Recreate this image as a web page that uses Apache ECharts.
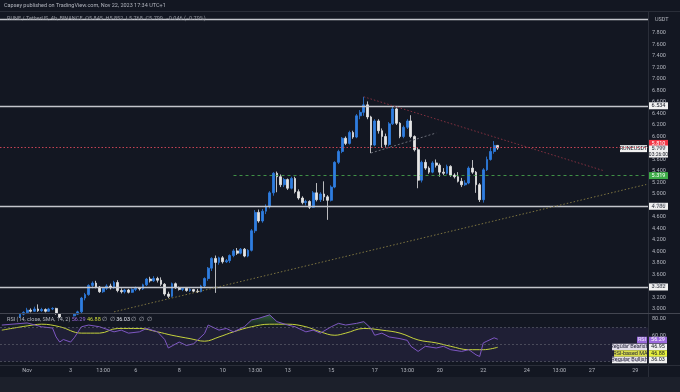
<!DOCTYPE html>
<html><head><meta charset="utf-8">
<script src="https://cdn.jsdelivr.net/npm/echarts@6/dist/echarts.min.js"></script>
<style>html,body{margin:0;padding:0;background:#131722;}#c{width:680px;height:392px;}</style>
</head><body><div id="c"></div>
<script>
// ---- data (4h candles, index 0 = Oct 30 20:00) ----
const opens  = [2.76,2.80,2.84,2.82,2.87,2.86,2.91,2.94,2.98,2.96,3.00,2.97,2.99,2.96,3.00,3.01,2.92,2.86,2.89,2.85,2.88,2.91,2.95,3.19,3.25,3.41,3.45,3.38,3.30,3.36,3.40,3.37,3.46,3.32,3.30,3.33,3.29,3.34,3.36,3.35,3.42,3.52,3.49,3.53,3.50,3.43,3.26,3.22,3.44,3.37,3.34,3.36,3.32,3.34,3.31,3.30,3.40,3.53,3.71,3.88,3.81,3.89,3.82,3.84,3.93,4.01,3.97,4.04,3.92,4.02,4.36,4.68,4.53,4.70,4.78,5.02,5.36,5.30,5.16,5.25,5.10,5.27,5.04,4.93,4.85,4.87,4.77,5.02,4.90,5.00,4.95,4.89,5.12,5.55,5.74,5.97,5.88,6.07,5.99,6.36,6.42,6.55,6.34,5.85,6.27,6.10,6.00,5.86,6.22,6.48,6.23,6.00,6.16,6.27,6.00,5.77,5.24,5.55,5.45,5.38,5.54,5.50,5.38,5.36,5.48,5.33,5.30,5.22,5.16,5.19,5.45,5.38,5.16,4.90,5.42,5.60,5.74,5.845];
const closes = [2.80,2.84,2.82,2.87,2.86,2.91,2.94,2.98,2.96,3.00,2.97,2.99,2.96,3.00,3.01,2.92,2.86,2.89,2.85,2.88,2.91,2.95,3.19,3.25,3.41,3.45,3.38,3.30,3.36,3.40,3.37,3.46,3.32,3.30,3.33,3.29,3.34,3.36,3.35,3.42,3.52,3.49,3.53,3.50,3.43,3.26,3.22,3.44,3.37,3.34,3.36,3.32,3.34,3.31,3.30,3.40,3.53,3.71,3.88,3.81,3.89,3.82,3.84,3.93,4.01,3.97,4.04,3.92,4.02,4.36,4.68,4.53,4.70,4.78,5.02,5.36,5.30,5.16,5.25,5.10,5.27,5.04,4.93,4.85,4.87,4.77,5.02,4.90,5.00,4.95,4.89,5.12,5.55,5.74,5.97,5.88,6.07,5.99,6.36,6.42,6.55,6.34,5.85,6.27,6.10,6.00,5.86,6.22,6.48,6.23,6.00,6.16,6.27,6.00,5.77,5.24,5.55,5.45,5.38,5.54,5.50,5.38,5.36,5.48,5.33,5.30,5.22,5.16,5.19,5.45,5.38,5.16,4.90,5.42,5.60,5.74,5.845,5.799];
const lows   = [2.74,2.78,2.80,2.81,2.84,2.85,2.89,2.92,2.94,2.95,2.95,2.95,2.94,2.95,2.98,2.90,2.84,2.85,2.83,2.84,2.87,2.90,2.93,3.15,3.23,3.36,3.36,3.28,3.28,3.33,3.34,3.35,3.29,3.27,3.27,3.27,3.28,3.31,3.32,3.33,3.40,3.46,3.47,3.46,3.40,3.23,3.19,3.20,3.35,3.32,3.31,3.30,3.30,3.29,3.28,3.29,3.38,3.49,3.66,3.28,3.77,3.79,3.80,3.80,3.90,3.94,3.95,3.90,3.90,4.00,4.32,4.50,4.50,4.65,4.75,4.97,5.03,5.12,5.12,5.07,5.08,5.01,4.90,4.82,4.80,4.74,4.76,4.87,4.86,4.88,4.55,4.87,5.10,5.52,5.71,5.85,5.86,5.96,5.97,6.30,6.36,6.30,5.71,5.83,6.05,5.80,5.82,5.83,6.20,6.20,5.97,5.97,6.13,5.97,5.74,5.10,5.20,5.42,5.35,5.36,5.46,5.30,5.33,5.34,5.30,5.27,5.20,5.12,5.14,5.17,5.35,5.02,4.86,4.85,5.40,5.58,5.70,5.768];
const highs  = [2.82,2.86,2.87,2.89,2.90,2.93,2.96,3.02,3.01,3.04,3.08,3.02,3.01,3.02,3.03,3.02,2.93,2.91,2.90,2.90,2.93,2.97,3.21,3.28,3.43,3.48,3.49,3.40,3.38,3.43,3.44,3.49,3.50,3.36,3.35,3.35,3.36,3.39,3.38,3.44,3.54,3.56,3.57,3.56,3.55,3.45,3.30,3.46,3.46,3.39,3.38,3.38,3.36,3.35,3.35,3.42,3.55,3.73,3.90,3.93,3.91,3.92,3.87,3.95,4.04,4.06,4.06,4.06,4.04,4.39,4.72,4.73,4.74,4.82,5.05,5.38,5.39,5.34,5.28,5.27,5.30,5.30,5.08,4.96,4.90,4.89,5.05,5.19,5.03,5.22,4.98,5.15,5.57,5.77,5.99,6.00,6.10,6.10,6.39,6.46,6.69,6.61,6.36,6.30,6.30,6.14,6.05,6.25,6.52,6.50,6.25,6.19,6.30,6.37,6.02,5.80,5.58,5.60,5.48,5.57,5.60,5.53,5.45,5.51,5.50,5.36,5.38,5.28,5.24,5.48,5.59,5.40,5.19,5.45,5.65,5.80,5.92,5.852];

const rsiIdx = [0,7,11,14,15,16,17,19,20,22,24,27,31,33,35,38,40,43,45,46,49,51,53,56,57,60,62,64,67,69,71,74,76,79,81,84,86,88,91,93,95,98,100,102,103,105,107,110,112,113,115,117,120,122,124,127,129,131,132,133,134,136,137];
const rsiVal = [73,75.5,71,69.5,59,53,56,53,58,71,73,71,65,67,63.5,65,69,65,56,46,53,49,51,63,73,67,69,65,71,79,81,85,77,73,71,65,67,63.5,71,75,73,75,77,69,61,63.5,59,57,55,48,42,48,46,48,44,42,44,38,36,52,54,58,56.29];
const smaIdx = [0,7,11,16,22,27,32,38,43,47,52,56,60,64,69,74,79,84,88,92,95,100,105,110,115,120,124,129,133,137];
const smaVal = [67,72,74,71,63.5,63.5,69,69,65,61,57,54,59,65,71,74,74,71,65,61,63.5,69,67,63.5,55.5,52,48,44,44,46.88];

const priceTicks = [3.0,3.2,3.4,3.6,3.8,4.0,4.2,4.4,4.6,4.8,5.0,5.2,5.4,5.6,5.8,6.0,6.2,6.4,6.6,6.8,7.0,7.2,7.4,7.6,7.8];
const rsiTicks = [80,60];
const timeTickIdx  = [7,19,28,37,49,61,70,79,91,103,112,121,133,145,154,163,175];
const timeTickText = ['Nov','3','13:00','6','8','10','13:00','13','15','17','13:00','20','22','24','13:00','27','29'];

const levelLines = [8.043, 6.534, 4.786, 3.382];
const redLevel = 5.81, lastPrice = 5.799, greenLevel = 5.319;
const trendRed = [[100, 6.69],[166, 5.41]];
const trendYellow = [[31, 2.95],[178, 5.165]];
const trendGrey = [[102, 5.713],[120, 6.061]];

// ---- chart ----
const N = 179;
const cats = []; for (let i = 0; i < N; i++) cats.push(String(i));
const candleData = opens.map((o, i) => [o, closes[i], lows[i], highs[i]]);
const FONT = 'Roboto';
const AX = '#b2b5be';
const chart = echarts.init(document.getElementById('c'));
const seg = (pts, color, type) => [{coord:[cats[pts[0][0]], pts[0][1]], lineStyle:{color, type, width:1}}, {coord:[cats[pts[1][0]], pts[1][1]]}];

chart.setOption({
  backgroundColor: '#131722',
  animation: false,
  grid: [
    {left: 0, top: 12, width: 648, height: 301},
    {left: 0, top: 314, width: 648, height: 51}
  ],
  xAxis: [
    {type:'category', gridIndex:0, data:cats, boundaryGap:true, axisLine:{show:false}, axisTick:{show:false}, axisLabel:{show:false}, splitLine:{show:false}},
    {type:'value', gridIndex:1, min:-0.5, max:178.5, axisLine:{show:false}, axisTick:{show:false}, splitLine:{show:false},
     axisLabel:{customValues: timeTickIdx, formatter: v => timeTickText[timeTickIdx.indexOf(v)] || '', color:AX, fontSize:5.5, fontFamily:FONT, margin:3}}
  ],
  yAxis: [
    {type:'value', gridIndex:0, position:'right', min:2.93, max:8.165, axisLine:{show:false}, axisTick:{show:false}, splitLine:{show:false},
     axisLabel:{customValues: priceTicks, formatter: v => v.toFixed(3), color:AX, fontSize:5.5, fontFamily:FONT, margin:4}},
    {type:'value', gridIndex:1, position:'right', min:26, max:86, axisLine:{show:false}, axisTick:{show:false}, splitLine:{show:false},
     axisLabel:{customValues: rsiTicks, formatter: v => v.toFixed(2), color:AX, fontSize:5.5, fontFamily:FONT, margin:4}}
  ],
  series: [
    {type:'candlestick', xAxisIndex:0, yAxisIndex:0, data:candleData, barWidth:2.3, clip:true,
     itemStyle:{color:'#2f7de1', color0:'#e6e6e6', borderColor:'#2f7de1', borderColor0:'#e6e6e6', borderWidth:0.8},
     markLine:{silent:true, symbol:['none','none'], label:{show:false}, animation:false,
       data: [
         ...levelLines.map(v => ({yAxis:v, lineStyle:{color:'#c3c5cc', width:1.3, type:'solid'}})),
         {yAxis:redLevel, lineStyle:{color:'#d9475a', width:1, type:[1.5,2], opacity:0.9}},
         [{coord:[cats[64], greenLevel], lineStyle:{color:'#4caf50', width:1, type:[3,3], opacity:0.8}}, {coord:[cats[178], greenLevel]}],
         seg(trendRed, '#83303f', [1.5,2]),
         seg(trendYellow, '#7d7440', [1.5,2]),
         seg(trendGrey, '#6b6e78', [2,2])
       ]}
    },
    {type:'line', xAxisIndex:1, yAxisIndex:1, data: rsiIdx.map((k,i)=>[k, Math.max(rsiVal[i],70)]), symbol:'none',
     lineStyle:{width:0}, areaStyle:{origin:70, color:new echarts.graphic.LinearGradient(0,0,0,1,[{offset:0,color:'rgba(76,175,80,0.65)'},{offset:1,color:'rgba(76,175,80,0.0)'}])}, z:1},
    {type:'line', xAxisIndex:1, yAxisIndex:1, data: rsiIdx.map((k,i)=>[k, rsiVal[i]]), symbol:'none',
     lineStyle:{color:'#7e57c2', width:1}, z:3,
     markArea:{silent:true, itemStyle:{color:'rgba(126,87,194,0.12)'}, data:[[{yAxis:70},{yAxis:30}]]},
     markLine:{silent:true, symbol:['none','none'], label:{show:false},
       data:[{yAxis:70},{yAxis:50},{yAxis:30}], lineStyle:{color:'#787b86', type:[2,2], width:0.8, opacity:0.6}}},
    {type:'line', xAxisIndex:1, yAxisIndex:1, data: smaIdx.map((k,i)=>[k, smaVal[i]]), symbol:'none', smooth:0.4,
     lineStyle:{color:'#c6d33c', width:1}, z:2}
  ]
});

// ---- overlays (tags, headers, frame) ----
const py = p => chart.convertToPixel({yAxisIndex:0}, p);
function tag(x, w, yc, h, text, bg, fg) {
  return {type:'group', z:100, children:[
    {type:'rect', shape:{x:x, y:yc - h/2, width:w, height:h}, style:{fill:bg}},
    {type:'text', style:{x:x + w/2, y:yc, text:text, fill:fg, font:'5.5px ' + FONT, align:'center', verticalAlign:'middle'}}
  ]};
}
function rtag(xr, w, yc, h, text, bg, fg) { return tag(xr - w, w, yc, h, text, bg, fg); }
const g = [];
// frame lines
g.push({type:'line', z:50, shape:{x1:648.5, y1:12, x2:648.5, y2:377}, style:{stroke:'#2a2e39', lineWidth:1}});
g.push({type:'line', z:50, shape:{x1:0, y1:313.5, x2:680, y2:313.5}, style:{stroke:'#434651', lineWidth:1.2}});
g.push({type:'line', z:50, shape:{x1:0, y1:365.5, x2:680, y2:365.5}, style:{stroke:'#2a2e39', lineWidth:1}});
g.push({type:'rect', z:40, shape:{x:0, y:377, width:680, height:15}, style:{fill:'#1c202b'}});
g.push({type:'line', z:50, shape:{x1:0, y1:11.5, x2:680, y2:11.5}, style:{stroke:'#2a2e39', lineWidth:1}});
// header
g.push({type:'text', z:100, style:{x:4, y:6, text:'Capsey published on TradingView.com, Nov 22, 2023 17:34 UTC+1', fill:'#b2b5be', font:'5.5px ' + FONT, verticalAlign:'middle'}});
g.push({type:'text', z:100, style:{x:7, y:19, text:'RUNE / TetherUS, 4h, BINANCE  O5.845  H5.852  L5.768  C5.799  −0.046 (−0.79%)', fill:'#9598a1', font:'5.5px ' + FONT, verticalAlign:'middle'}});
g.push({type:'text', z:100, style:{x:655, y:20, text:'USDT', fill:AX, font:'5.5px ' + FONT, verticalAlign:'middle'}});
// RSI legend
g.push({type:'text', z:100, style:{x:7, y:320, font:'5.5px ' + FONT, verticalAlign:'middle',
  text:'{a|RSI (14, close, SMA, 14, 2)} {p|56.29} {y|46.88} {a|∅  ∅} {w|36.03} {a|∅  ∅  ∅}',
  rich:{a:{fill:'#b2b5be', font:'5.5px ' + FONT}, p:{fill:'#9c6ade', font:'5.5px ' + FONT}, y:{fill:'#cddc39', font:'5.5px ' + FONT}, w:{fill:'#e0e3eb', font:'5.5px ' + FONT}}}});
// price tags
[6.534, 4.786, 3.382].forEach(v => g.push(tag(649, 19, py(v), 7, v.toFixed(3), '#f0f0f0', '#131722')));
g.push(tag(649, 19, py(redLevel) - 4, 7, redLevel.toFixed(3), '#f23645', '#ffffff'));
g.push({type:'group', z:101, children:[
  {type:'rect', shape:{x:649, y:py(lastPrice) - 2.5, width:19, height:12}, style:{fill:'#f0f0f0'}},
  {type:'text', style:{x:658.5, y:py(lastPrice) + 0.6, text:lastPrice.toFixed(3), fill:'#131722', font:'5.5px ' + FONT, align:'center', verticalAlign:'middle'}},
  {type:'text', style:{x:658.5, y:py(lastPrice) + 6.3, text:'03:26:00', fill:'#131722', font:'5px ' + FONT, align:'center', verticalAlign:'middle'}}
]});
g.push(rtag(647, 27, py(lastPrice) + 0.6, 7, 'RUNEUSDT', '#f0f0f0', '#131722'));
g.push(tag(649, 19, py(greenLevel), 7, greenLevel.toFixed(3), '#3fae49', '#ffffff'));
// RSI tags
g.push(rtag(647, 10, 340, 6.5, 'RSI', '#9c6ade', '#ffffff'));
g.push(tag(649, 18, 340, 6.5, '56.29', '#9c6ade', '#ffffff'));
g.push(rtag(647, 35, 347, 6.5, 'Regular Bearish', '#f0f0f0', '#131722'));
g.push(tag(649, 18, 347, 6.5, '46.95', '#f0f0f0', '#131722'));
g.push(rtag(647, 33, 353.5, 6.5, 'RSI-based MA', '#e6f03c', '#131722'));
g.push(tag(649, 18, 353.5, 6.5, '46.88', '#e6f03c', '#131722'));
g.push(rtag(647, 35, 360, 6.5, 'Regular Bullish', '#f0f0f0', '#131722'));
g.push(tag(649, 18, 360, 6.5, '36.03', '#f0f0f0', '#131722'));
// footer logo
g.push({type:'group', z:100, children:[
  {type:'rect', shape:{x:4, y:380.5, width:4.5, height:1.8}, style:{fill:'#d1d4dc'}},
  {type:'rect', shape:{x:6, y:380.5, width:1.8, height:5}, style:{fill:'#d1d4dc'}},
  {type:'circle', shape:{cx:10, cy:381.4, r:0.9}, style:{fill:'#d1d4dc'}},
  {type:'polygon', shape:{points:[[11.5,380.5],[13.3,380.5],[11.6,385.5],[9.8,385.5]]}, style:{fill:'#d1d4dc'}},
  {type:'text', style:{x:15, y:383, text:'TradingView', fill:'#d1d4dc', font:'6px ' + FONT, verticalAlign:'middle'}}
]});
chart.setOption({graphic: g});
</script></body></html>
